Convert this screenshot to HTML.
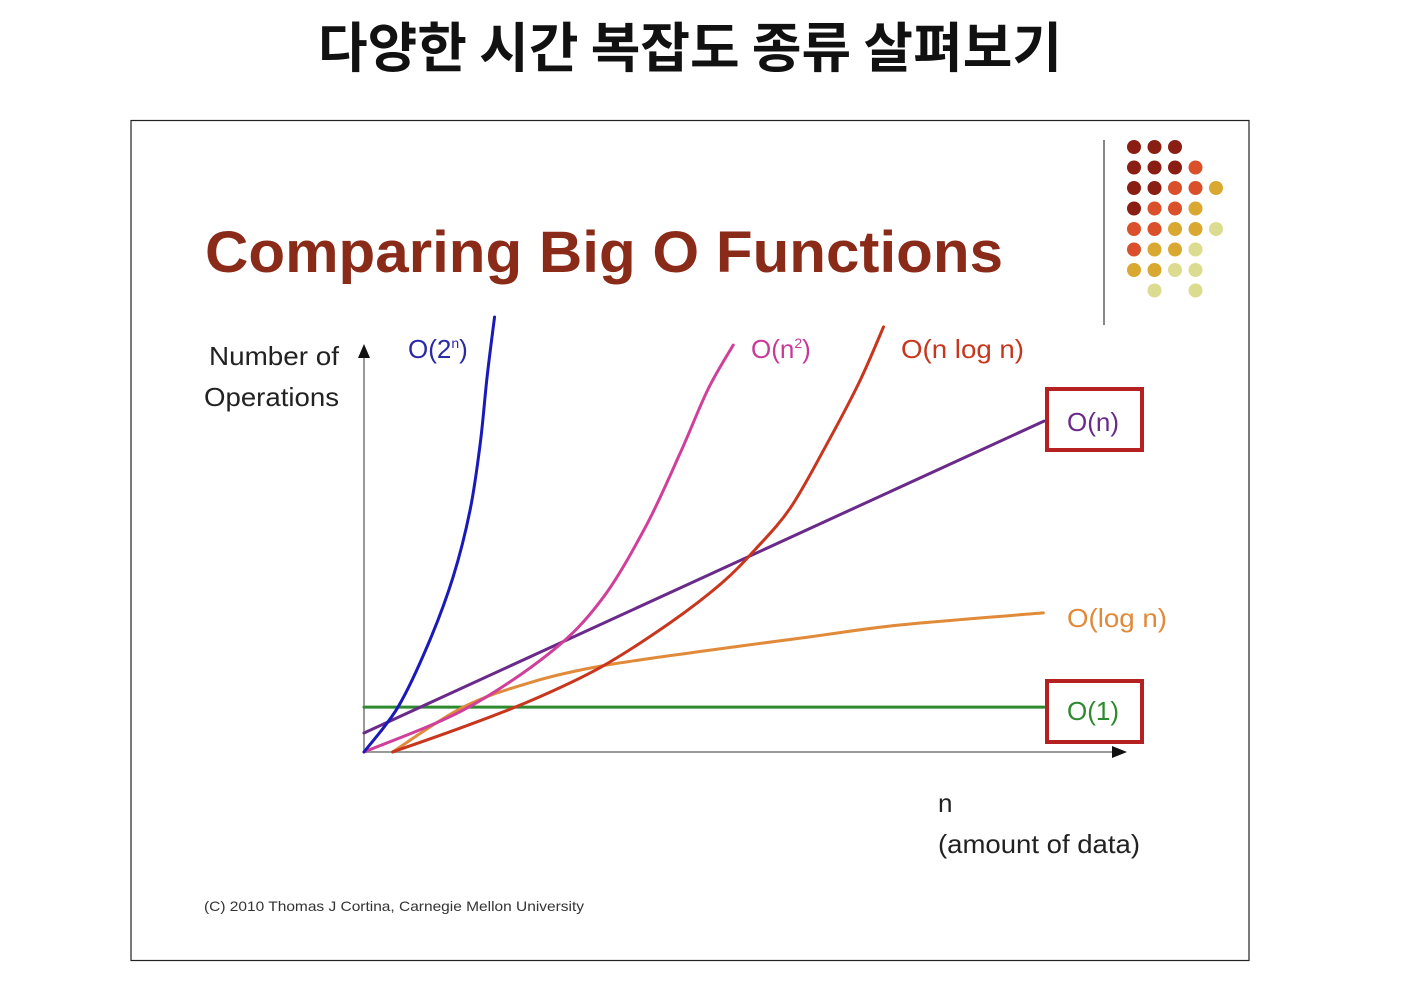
<!DOCTYPE html>
<html><head><meta charset="utf-8">
<style>
html,body{margin:0;padding:0;background:#fff;}
body{width:1410px;height:984px;overflow:hidden;}
svg text{font-family:"Liberation Sans","Noto Sans CJK KR",sans-serif;}
</style></head>
<body>
<svg id="chart" width="1410" height="984" xmlns="http://www.w3.org/2000/svg">
  <text x="690" y="67" text-anchor="middle" font-size="54" font-weight="bold" fill="#111" textLength="744" lengthAdjust="spacingAndGlyphs" style="font-family:'Noto Sans CJK KR',sans-serif">다양한 시간 복잡도 종류 살펴보기</text>
  <rect x="131" y="120.5" width="1118" height="840" fill="#fff" stroke="#222" stroke-width="1.2"/>
  <text x="205" y="272" font-size="58" font-weight="bold" fill="#8a2a18" textLength="798" lengthAdjust="spacingAndGlyphs">Comparing Big O Functions</text>
  <line x1="1104" y1="140" x2="1104" y2="325" stroke="#888" stroke-width="2"/>
  <g id="dots"></g>
  <g id="axes"></g>
  <g id="series"></g>
  <text x="209" y="365" font-size="26" fill="#222" textLength="130" lengthAdjust="spacingAndGlyphs">Number of</text>
  <text x="204" y="406" font-size="26" fill="#222" textLength="135" lengthAdjust="spacingAndGlyphs">Operations</text>
  <text x="938" y="812" font-size="26" fill="#222">n</text>
  <text x="938" y="853" font-size="26" fill="#222" textLength="202" lengthAdjust="spacingAndGlyphs">(amount of data)</text>
  <text x="204" y="911" font-size="14" fill="#333" textLength="380" lengthAdjust="spacingAndGlyphs">(C) 2010 Thomas J Cortina, Carnegie Mellon University</text>
  <text x="408" y="358" font-size="26" fill="#2a2aa8">O(2<tspan font-size="14" dy="-10">n</tspan><tspan dy="10">)</tspan></text>
  <text x="751" y="358" font-size="26" fill="#c83a9a">O(n<tspan font-size="14" dy="-10">2</tspan><tspan dy="10">)</tspan></text>
  <text x="901" y="358" font-size="26" fill="#c8361e" textLength="123" lengthAdjust="spacingAndGlyphs">O(n log n)</text>
  <rect x="1047" y="389" width="95" height="61" fill="none" stroke="#b52020" stroke-width="4"/>
  <text x="1067" y="431" font-size="26" fill="#6a2a8a">O(n)</text>
  <text x="1067" y="627" font-size="26" fill="#e08a3a" textLength="100" lengthAdjust="spacingAndGlyphs">O(log n)</text>
  <rect x="1047" y="681" width="95" height="61" fill="none" stroke="#b52020" stroke-width="4"/>
  <text x="1067" y="720" font-size="26" fill="#2e8a2e">O(1)</text>
</svg>
<script>
const expX = [0, 5, 9.5, 13.1, 15.6, 17.1, 18.1, 19.2];
const expY = [0, 10.4, 25.2, 40.5, 56, 71.5, 86.8, 100.7];
const sqX = [0, 14.6, 27.3, 34.9, 41.4, 46.5, 50.6, 54.3];
const sqY = [0, 9.7, 22.9, 35.2, 52.1, 69.2, 84, 94.2];
const nlognX = [4.2, 14.6, 24.7, 34.9, 45, 52.6, 57.6, 62.7, 67.8, 72.8, 76.4];
const nlognY = [0, 5.8, 12, 19.7, 29.9, 39.1, 47, 56.5, 70.5, 85.5, 98.4];
const lognX = [4.2, 14.6, 24.7, 34.9, 50.1, 65.3, 78.8, 99.9];
const lognY = [0, 10.4, 16.2, 19.9, 23.4, 26.6, 29.4, 32.2];
const linX = [0, 100];
const linY = [4.4, 76.6];
const constX = [0, 100];
const constY = [10.4, 10.4];

const X0 = 364, X1 = 1044, Y0 = 752, Y1 = 320;
const sx = v => X0 + (X1 - X0) * v / 100;
const sy = v => Y0 - (Y0 - Y1) * v / 100;
const NS = 'http://www.w3.org/2000/svg';

function pathFrom(xs, ys) {
  const p = xs.map((x, i) => [sx(x), sy(ys[i])]);
  if (p.length < 3) return 'M' + p.map(q => q.join(',')).join(' L');
  let d = 'M' + p[0][0] + ',' + p[0][1];
  for (let i = 0; i < p.length - 1; i++) {
    const a = p[i - 1] || p[i], b = p[i], c = p[i + 1], e = p[i + 2] || c;
    const c1 = [b[0] + (c[0] - a[0]) / 6, b[1] + (c[1] - a[1]) / 6];
    const c2 = [c[0] - (e[0] - b[0]) / 6, c[1] - (e[1] - b[1]) / 6];
    d += ' C' + c1.join(',') + ' ' + c2.join(',') + ' ' + c.join(',');
  }
  return d;
}

const axes = document.getElementById('axes');
const ya = document.createElementNS(NS, 'line');


ya.setAttribute('x1', X0); ya.setAttribute('y1', Y0); ya.setAttribute('x2', X0); ya.setAttribute('y2', 355);
ya.setAttribute('stroke', '#999'); ya.setAttribute('stroke-width', '2');
axes.appendChild(ya);
const yh = document.createElementNS(NS, 'polygon');


yh.setAttribute('points', `${X0 - 6},358 ${X0 + 6},358 ${X0},344`);
yh.setAttribute('fill', '#111');
axes.appendChild(yh);
const xa = document.createElementNS(NS, 'line');


xa.setAttribute('x1', X0); xa.setAttribute('y1', Y0); xa.setAttribute('x2', 1115); xa.setAttribute('y2', Y0);
xa.setAttribute('stroke', '#999'); xa.setAttribute('stroke-width', '2');
axes.appendChild(xa);
const xh = document.createElementNS(NS, 'polygon');


xh.setAttribute('points', `1112,${Y0 - 6} 1112,${Y0 + 6} 1127,${Y0}`);
xh.setAttribute('fill', '#111');
axes.appendChild(xh);

const series = [
  ['line-o-1', constX, constY, '#2e8a2e'],
  ['line-o-logn', lognX, lognY, '#e08a3a'],
  ['line-o-n', linX, linY, '#6a2a8a'],
  ['line-o-nlogn', nlognX, nlognY, '#c8361e'],
  ['line-o-n2', sqX, sqY, '#d0409a'],
  ['line-o-2n', expX, expY, '#1a1ab8']
];
const sg = document.getElementById('series');
series.forEach(s => {
  const p = document.createElementNS(NS, 'path');
  
  
  p.setAttribute('d', pathFrom(s[1], s[2]));
  p.setAttribute('fill', 'none');
  p.setAttribute('stroke', s[3]);
  p.setAttribute('stroke-width', '3');
  p.setAttribute('stroke-linecap', 'round');
  sg.appendChild(p);
});

const dotRows = [
  ['#8b1e12','#8b1e12','#8b1e12',null,null],
  ['#8b1e12','#8b1e12','#8b1e12','#d9502a',null],
  ['#8b1e12','#8b1e12','#d9502a','#d9502a','#d9a830'],
  ['#8b1e12','#d9502a','#d9502a','#d9a830',null],
  ['#d9502a','#d9502a','#d9a830','#d9a830','#dcdc90'],
  ['#d9502a','#d9a830','#d9a830','#dcdc90',null],
  ['#d9a830','#d9a830','#dcdc90','#dcdc90',null],
  [null,'#dcdc90',null,'#dcdc90',null]
];
const dg = document.getElementById('dots');
dotRows.forEach((row, r) => row.forEach((c, k) => {
  if (!c) return;
  const d = document.createElementNS(NS, 'circle');
  
  
  d.setAttribute('cx', 1134 + k * 20.5);
  d.setAttribute('cy', 147 + r * 20.5);
  d.setAttribute('r', 7);
  d.setAttribute('fill', c);
  dg.appendChild(d);
}));
</script>
</body></html>
